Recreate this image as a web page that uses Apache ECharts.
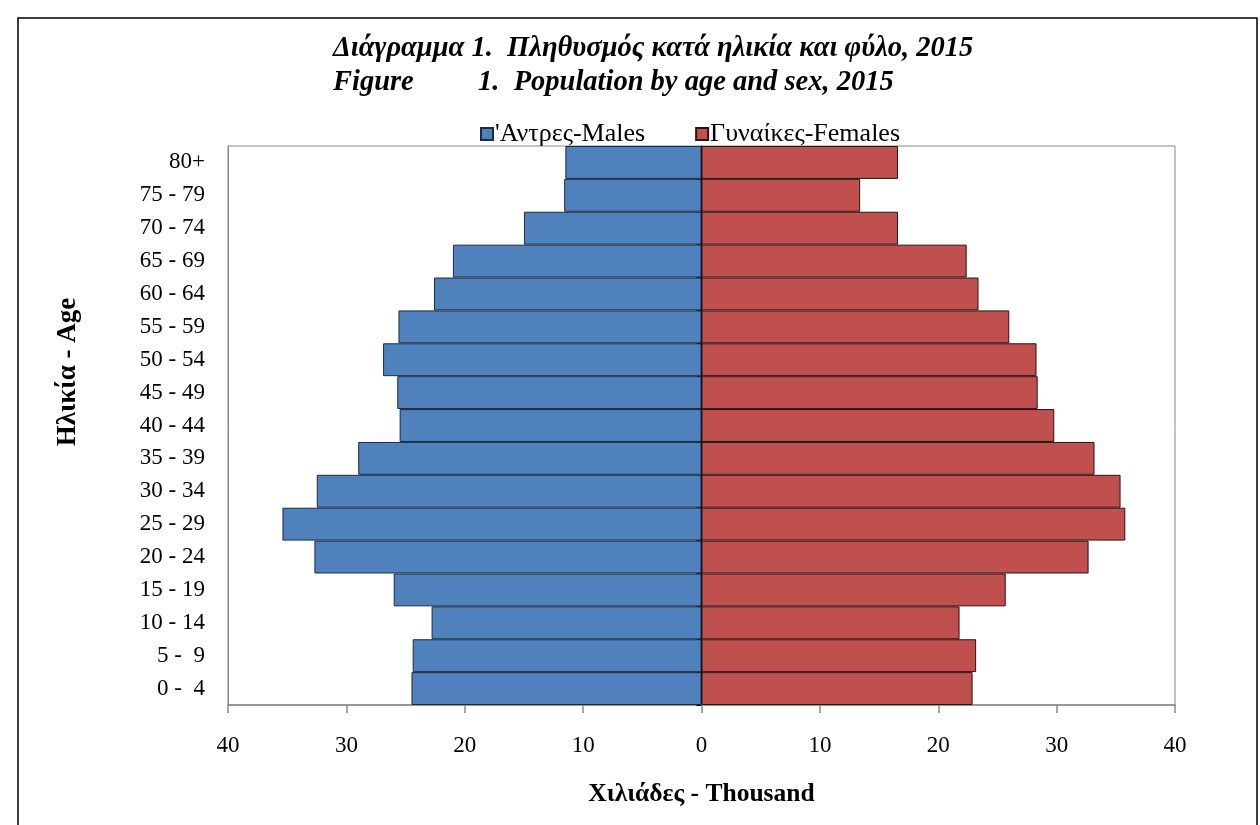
<!DOCTYPE html>
<html>
<head>
<meta charset="utf-8">
<script src="https://cdn.jsdelivr.net/npm/echarts@6/dist/echarts.min.js"></script>
<style>
html,body{margin:0;padding:0;background:#fff;}
#chart{width:1260px;height:825px;}
</style>
</head>
<body>
<div id="chart"></div>
<script>
const ageGroups = ['0 -  4','5 -  9','10 - 14','15 - 19','20 - 24','25 - 29','30 - 34','35 - 39','40 - 44','45 - 49','50 - 54','55 - 59','60 - 64','65 - 69','70 - 74','75 - 79','80+'];
const males = [24.5, 24.4, 22.8, 26.0, 32.7, 35.4, 32.5, 29.0, 25.5, 25.7, 26.9, 25.6, 22.6, 21.0, 15.0, 11.6, 11.5];
const females = [22.9, 23.2, 21.8, 25.7, 32.7, 35.8, 35.4, 33.2, 29.8, 28.4, 28.3, 26.0, 23.4, 22.4, 16.6, 13.4, 16.6];
const xTicks = [-40, -30, -20, -10, 0, 10, 20, 30, 40];
const titleLine1 = 'Διάγραμμα 1.  Πληθυσμός κατά ηλικία και φύλο, 2015';
const titleLine2a = 'Figure';
const titleLine2b = '1.  Population by age and sex, 2015';
const seriesNames = ["'Αντρες-Males", 'Γυναίκες-Females'];
const yTitle = 'Ηλικία - Age';
const xTitle = 'Χιλιάδες - Thousand';

const serif = 'Liberation Serif, Times New Roman, serif';
const chart = echarts.init(document.getElementById('chart'));
const titleStyle = {fontFamily: serif, fontSize: 28.5, fontWeight: 'bold', fontStyle: 'italic', color: '#000'};
chart.setOption({
  animation: false,
  backgroundColor: '#fff',
  title: [
    {text: titleLine1, left: 328, top: 29, textStyle: titleStyle},
    {text: titleLine2a, left: 328, top: 63, textStyle: titleStyle},
    {text: titleLine2b, left: 473, top: 63, textStyle: titleStyle}
  ],
  graphic: [{
    type: 'rect', shape: {x: 18, y: 18, width: 1239, height: 830},
    style: {fill: 'none', stroke: '#000', lineWidth: 1.5}, silent: true
  }, {
    type: 'text', x: 68, y: 372, rotation: Math.PI / 2,
    style: {text: yTitle, fontFamily: serif, fontSize: 27, fontWeight: 'bold', fill: '#000',
      align: 'center', verticalAlign: 'middle'}, silent: true
  }],
  legend: {
    data: seriesNames,
    left: 475, top: 116,
    itemWidth: 12, itemHeight: 12, itemGap: 50,
    icon: 'rect',
    textStyle: {fontFamily: serif, fontSize: 26, color: '#000', padding: [0,0,0,-3]}
  },
  grid: {left: 228, right: 85, top: 146, bottom: 120, show: true, borderColor: '#888', borderWidth: 1},
  xAxis: {
    type: 'value', min: -40, max: 40, interval: 10,
    axisLine: {show: true, lineStyle: {color: '#888', width: 1.5}},
    axisTick: {show: true, length: 8, lineStyle: {color: '#888', width: 1.5}},
    splitLine: {show: false},
    axisLabel: {fontFamily: serif, fontSize: 23, color: '#000', margin: 29,
      formatter: v => xTicks.includes(v) ? String(Math.abs(v)) : ''},
    name: xTitle, nameLocation: 'middle', nameGap: 76,
    nameTextStyle: {fontFamily: serif, fontSize: 25.5, fontWeight: 'bold', color: '#000'}
  },
  yAxis: [{
    type: 'category', data: ageGroups,
    axisLine: {onZero: false, show: true, lineStyle: {color: '#888'}},
    axisTick: {show: false},
    axisLabel: {fontFamily: serif, fontSize: 23, color: '#000', margin: 23}
  }, {
    type: 'category', data: ageGroups, position: 'left',
    axisLine: {onZero: true, show: true, lineStyle: {color: '#000'}},
    axisTick: {show: true, length: 5, lineStyle: {color: '#000'}},
    axisLabel: {show: false}
  }],
  series: [{
    name: seriesNames[0], type: 'bar', stack: 'pop', barCategoryGap: '0%',
    data: males.map(v => -v),
    itemStyle: {color: '#4F81BD', borderColor: '#1c2b3e', borderWidth: 1}
  }, {
    name: seriesNames[1], type: 'bar', stack: 'pop', barCategoryGap: '0%',
    data: females,
    itemStyle: {color: '#C0504D', borderColor: '#2a1212', borderWidth: 1}
  }]
});
</script>
</body>
</html>
